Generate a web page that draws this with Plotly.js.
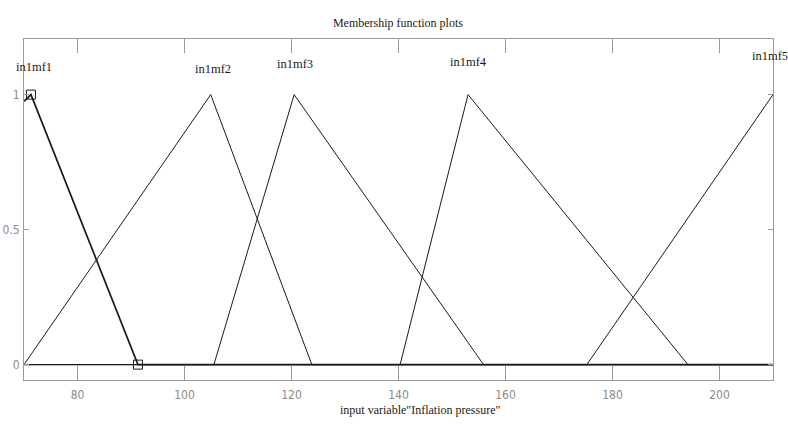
<!DOCTYPE html>
<html>
<head>
<meta charset="utf-8">
<script src="https://cdn.plot.ly/plotly-3.0.1.min.js"></script>
<style>html,body{margin:0;padding:0;background:#fff;}#chart{width:788px;height:428px;}</style>
</head>
<body>
<div id="chart"></div>
<script>
// Membership functions of input variable "Inflation pressure"
const mfNames = ["in1mf1", "in1mf2", "in1mf3", "in1mf4", "in1mf5"];
const mf1X = [70, 71.3, 91.3, 210];
const mf1Y = [0.975, 1, 0, 0];
const mf2X = [70, 104.9, 123.8, 210];
const mf2Y = [0, 1, 0, 0];
const mf3X = [70, 105.5, 120.5, 155.9, 210];
const mf3Y = [0, 0, 1, 0, 0];
const mf4X = [70, 140.3, 153.0, 194.1, 210];
const mf4Y = [0, 0, 1, 0, 0];
const mf5X = [70, 175.2, 210];
const mf5Y = [0, 0, 1];
const xTicks = [80, 100, 120, 140, 160, 180, 200];
const yTicks = [0, 0.5, 1];
const yTickText = ["0", "0.5", "1"];

const serif = "Liberation Serif, Times New Roman, serif";
const narrow = "Liberation Sans Narrow, DejaVu Sans Condensed, Arial Narrow, sans-serif";
const ink = "#1a1a1a";
const grey = "#9a9a9a";

const series = [[mf1X, mf1Y], [mf2X, mf2Y], [mf3X, mf3Y], [mf4X, mf4Y], [mf5X, mf5Y]];
const traces = series.map((s, i) => ({
  x: s[0], y: s[1], type: "scatter", mode: "lines", name: mfNames[i],
  line: {color: ink, width: i === 0 ? 1.7 : 1}, hoverinfo: "skip", cliponaxis: false
}));
// selected MF vertex markers
traces.push({
  x: [mf1X[1], mf1X[2]], y: [mf1Y[1], mf1Y[2]], type: "scatter", mode: "markers",
  marker: {symbol: "square-open", size: 9, color: ink, line: {width: 1, color: ink}},
  hoverinfo: "skip", cliponaxis: false
});

// label vertical placement (display only)
const labelY = [1.104, 1.096, 1.115, 1.119, 1.144];
const labelShift = [0.6, 0.4, 0.2, 0, -0.6];
const peakX = [mf1X[1], mf2X[1], mf3X[2], mf4X[2], mf5X[2]];
const annotations = mfNames.map((n, i) => ({
  text: n, x: peakX[i] + labelShift[i], y: labelY[i], xref: "x", yref: "y",
  showarrow: false, xanchor: "center", yanchor: "middle",
  font: {family: serif, size: 12.5, color: ink}
}));
annotations.push({
  text: 'input variable"Inflation pressure"', xref: "paper", yref: "paper",
  x: 0.53, y: -0.087, showarrow: false, xanchor: "center", yanchor: "middle",
  font: {family: serif, size: 12, color: ink}
});

const layout = {
  width: 788, height: 428,
  margin: {l: 24, r: 15, t: 39, b: 48, pad: 0},
  paper_bgcolor: "#fff", plot_bgcolor: "#fff",
  showlegend: false,
  title: {text: "Membership function plots", x: 0.505, xref: "container", xanchor: "center",
          y: 0.947, yref: "container", yanchor: "middle",
          font: {family: serif, size: 12, color: ink}},
  xaxis: {range: [70, 210], tickvals: xTicks, ticktext: xTicks.map(String),
          ticks: "inside", ticklen: 14, tickcolor: grey, tickwidth: 1,
          showline: true, linecolor: grey, linewidth: 1, mirror: "ticks",
          showgrid: false, zeroline: false, ticklabelstandoff: 4,
          tickfont: {family: narrow, size: 12, color: "#8a8a8a"}},
  yaxis: {range: [-0.057, 1.206], tickvals: yTicks, ticktext: yTickText,
          ticks: "inside", ticklen: 5, tickcolor: grey, tickwidth: 1,
          showline: true, linecolor: grey, linewidth: 1, mirror: "ticks",
          showgrid: false, zeroline: false, ticklabelstandoff: 1,
          tickfont: {family: narrow, size: 12, color: "#8a8a8a"}},
  annotations: annotations
};

Plotly.newPlot("chart", traces, layout, {staticPlot: true, displayModeBar: false});
</script>
</body>
</html>
